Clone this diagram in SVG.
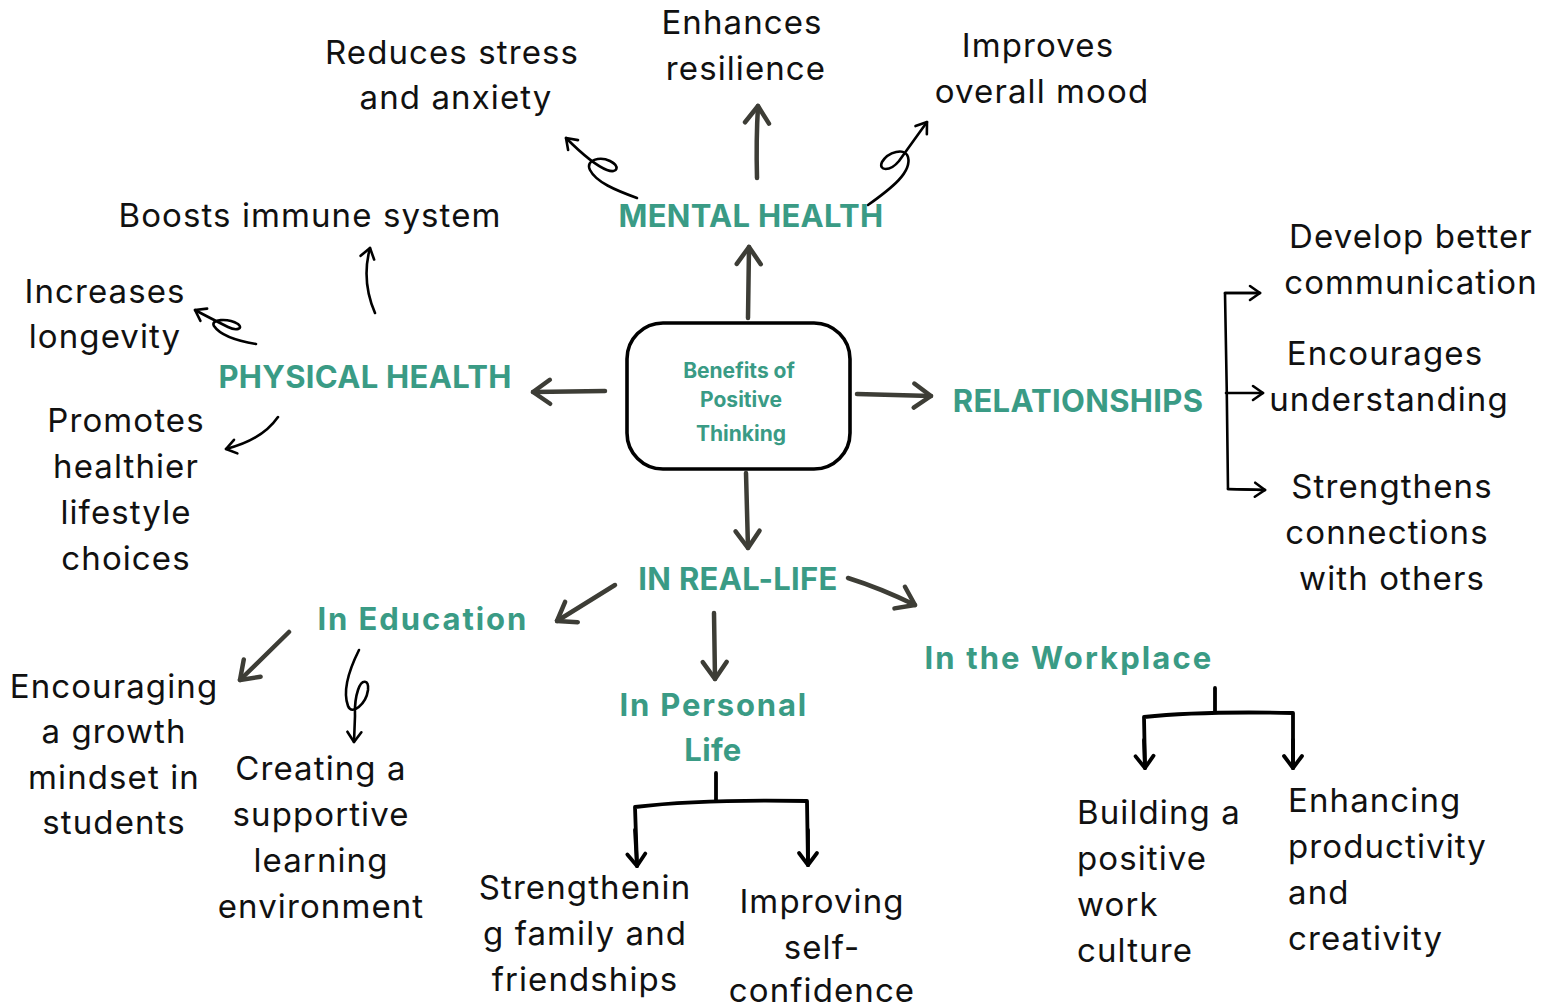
<svg xmlns="http://www.w3.org/2000/svg" width="1554" height="1007" viewBox="0 0 1554 1007">
<defs>
<style>
.t{font-family:Inter,"Open Sans","Liberation Sans",sans-serif;font-size:33px;letter-spacing:1.1px;fill:#111;text-anchor:middle}
.tl{text-anchor:start}
.h{font-family:Inter,"Open Sans","Liberation Sans",sans-serif;font-weight:700;font-size:31px;letter-spacing:0.3px;fill:#3a9b85;text-anchor:middle}
.c{font-family:Inter,"Open Sans","Liberation Sans",sans-serif;font-weight:700;font-size:21px;fill:#3a9b85;text-anchor:middle}
.g{fill:none;stroke:#3d3d36;stroke-width:4.5;stroke-linecap:round;stroke-linejoin:round}
.k{fill:none;stroke:#000;stroke-width:2.6;stroke-linecap:round;stroke-linejoin:round}
.b{fill:none;stroke:#000;stroke-width:3.8;stroke-linecap:round;stroke-linejoin:round}
</style>
<marker id="ag" markerUnits="userSpaceOnUse" markerWidth="40" markerHeight="40" viewBox="-25 -20 30 40" refX="0" refY="0" orient="auto" overflow="visible">
<path d="M-17,-12 L0,0 L-17,12" fill="none" stroke="#3d3d36" stroke-width="4.5" stroke-linecap="round" stroke-linejoin="round"/>
</marker>
<marker id="ak" markerUnits="userSpaceOnUse" markerWidth="30" markerHeight="30" viewBox="-15 -15 20 30" refX="0" refY="0" orient="auto" overflow="visible">
<path d="M-10,-7 L0,0 L-10,7" fill="none" stroke="#000" stroke-width="2.6" stroke-linecap="round" stroke-linejoin="round"/>
</marker>
<marker id="ab" markerUnits="userSpaceOnUse" markerWidth="30" markerHeight="30" viewBox="-15 -15 20 30" refX="0" refY="0" orient="auto" overflow="visible">
<path d="M-12,-9 L0,0 L-12,9" fill="none" stroke="#000" stroke-width="3.8" stroke-linecap="round" stroke-linejoin="round"/>
</marker>
</defs>
<rect width="1554" height="1007" fill="#fff"/>

<g id="connectors">
<path class="g" d="M748,318 L749,247" marker-end="url(#ag)"/>
<path class="g" d="M757,178 Q756,140 758,106" marker-end="url(#ag)"/>
<path class="g" d="M605,391 L533,392" marker-end="url(#ag)"/>
<path class="g" d="M857,394 L931,396" marker-end="url(#ag)"/>
<path class="g" d="M746,473 L748,548" marker-end="url(#ag)"/>
<path class="g" d="M615,585 L557,621" marker-end="url(#ag)"/>
<path class="g" d="M848,578 Q880,588 915,605" marker-end="url(#ag)"/>
<path class="g" d="M714,613 L715,679" marker-end="url(#ag)"/>
<path class="g" d="M289,632 L240,680" marker-end="url(#ag)"/>
<path class="k" d="M637,198 C615,190 596,182 590,170 C585,160 600,156 610,161 C620,166 618,174 607,170 C594,165 580,152 566,138" marker-end="url(#ak)"/>
<path class="k" d="M868,205 C892,188 912,172 908,157 C905,147 888,152 882,162 C878,171 890,172 899,161 L927,122" marker-end="url(#ak)"/>
<path class="k" d="M375,313 C366,292 364,270 370,248" marker-end="url(#ak)"/>
<path class="k" d="M256,344 C238,341 220,335 214,326 C210,319 228,318 238,324 C244,329 236,331 228,327 C216,321 206,316 195,310" marker-end="url(#ak)"/>
<path class="k" d="M278,417 Q262,440 226,449" marker-end="url(#ak)"/>
<path class="k" d="M359,650 C350,668 342,690 348,706 C352,716 366,704 368,690 C369,680 362,678 358,690 C354,702 355,712 355,716 L354,742" marker-end="url(#ak)"/>
<path class="k" d="M1260,293 L1225,293 Q1227,390 1228,489 L1265,490"/>
<path class="k" d="M1225,293 L1260,293" marker-end="url(#ak)"/>
<path class="k" d="M1226,393 L1263,393" marker-end="url(#ak)"/>
<path class="k" d="M1228,489 L1265,490" marker-end="url(#ak)"/>
<path class="b" d="M716,773 L716,800"/>
<path class="b" d="M637,866 L635,807 Q700,799 807,801 L808,865"/>
<path class="b" d="M635,830 L637,866" marker-end="url(#ab)"/>
<path class="b" d="M808,830 L808,865" marker-end="url(#ab)"/>
<path class="b" d="M1215,688 L1215,712"/>
<path class="b" d="M1145,768 L1144,717 Q1200,711 1293,713 L1293,768"/>
<path class="b" d="M1144,740 L1145,768" marker-end="url(#ab)"/>
<path class="b" d="M1293,740 L1293,768" marker-end="url(#ab)"/>
</g>

<g id="center">
<rect x="627" y="323" width="223" height="146" rx="36" fill="#fff" stroke="#000" stroke-width="3.6"/>
<text class="c" x="739" y="378">Benefits of</text>
<text class="c" x="741" y="407">Positive</text>
<text class="c" x="741" y="441">Thinking</text>
</g>

<g id="mental-health"><text class="h" x="751" y="227">MENTAL HEALTH</text></g>
<g id="physical-health"><text class="h" x="365" y="388">PHYSICAL HEALTH</text></g>
<g id="relationships"><text class="h" x="1078" y="412">RELATIONSHIPS</text></g>
<g id="in-real-life"><text class="h" x="738" y="590">IN REAL-LIFE</text></g>
<g id="in-education"><text class="h" x="422" y="630" textLength="209">In Education</text></g>
<g id="in-personal-life"><text class="h" x="713" y="716" textLength="187">In Personal</text><text class="h" x="713" y="761">Life</text></g>
<g id="in-workplace"><text class="h" x="1068" y="669" textLength="287">In the Workplace</text></g>

<g id="reduces-stress"><text class="t" x="452" y="64">Reduces stress</text><text class="t" x="456" y="109">and anxiety</text></g>
<g id="enhances-resilience"><text class="t" x="742" y="34">Enhances</text><text class="t" x="746" y="80">resilience</text></g>
<g id="improves-mood"><text class="t" x="1038" y="57">Improves</text><text class="t" x="1042" y="103">overall mood</text></g>
<g id="boosts-immune"><text class="t" x="310" y="227">Boosts immune system</text></g>
<g id="increases-longevity"><text class="t" x="105" y="303">Increases</text><text class="t" x="105" y="348">longevity</text></g>
<g id="promotes-lifestyle"><text class="t" x="126" y="432">Promotes</text><text class="t" x="126" y="478">healthier</text><text class="t" x="126" y="524">lifestyle</text><text class="t" x="126" y="570">choices</text></g>
<g id="develop-communication"><text class="t" x="1411" y="248">Develop better</text><text class="t" x="1411" y="294">communication</text></g>
<g id="encourages-understanding"><text class="t" x="1385" y="365">Encourages</text><text class="t" x="1389" y="411">understanding</text></g>
<g id="strengthens-connections"><text class="t" x="1392" y="498">Strengthens</text><text class="t" x="1387" y="544">connections</text><text class="t" x="1392" y="590">with others</text></g>
<g id="growth-mindset"><text class="t" x="114" y="698">Encouraging</text><text class="t" x="114" y="743">a growth</text><text class="t" x="114" y="789">mindset in</text><text class="t" x="114" y="834">students</text></g>
<g id="supportive-environment"><text class="t" x="321" y="780">Creating a</text><text class="t" x="321" y="826">supportive</text><text class="t" x="321" y="872">learning</text><text class="t" x="321" y="918">environment</text></g>
<g id="family-friendships"><text class="t" x="585" y="899">Strengthenin</text><text class="t" x="585" y="945">g family and</text><text class="t" x="585" y="991">friendships</text></g>
<g id="self-confidence"><text class="t" x="822" y="913">Improving</text><text class="t" x="822" y="959">self-</text><text class="t" x="822" y="1002">confidence</text></g>
<g id="positive-culture"><text class="t tl" x="1077" y="824">Building a</text><text class="t tl" x="1077" y="870">positive</text><text class="t tl" x="1077" y="916">work</text><text class="t tl" x="1077" y="962">culture</text></g>
<g id="productivity"><text class="t tl" x="1288" y="812">Enhancing</text><text class="t tl" x="1288" y="858">productivity</text><text class="t tl" x="1288" y="904">and</text><text class="t tl" x="1288" y="950">creativity</text></g>
</svg>
